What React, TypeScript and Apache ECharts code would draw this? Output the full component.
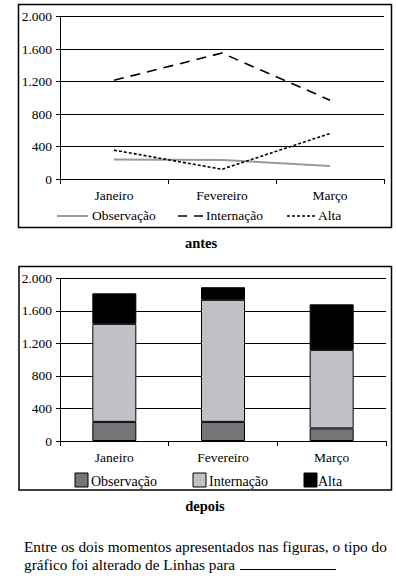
import React, { useEffect, useRef } from "react";
import * as echarts from "echarts";

const categories = ["Janeiro", "Fevereiro", "Março"];
const seriesNames = ["Observação", "Internação", "Alta"];
// "antes" (line chart)
const lineObservacao = [240, 235, 160];
const lineInternacao = [1215, 1550, 970];
const lineAlta = [355, 120, 560];
// "depois" (stacked bars)
const barObservacao = [235, 235, 155];
const barInternacao = [1205, 1500, 965];
const barAlta = [375, 155, 560];
const yTicks = { min: 0, max: 2000, interval: 400 };

const FONT = "Liberation Serif";

const fmt = (v: number) =>
  v >= 1000 ? Math.floor(v / 1000) + "." + String(v % 1000).padStart(3, "0") : String(v);

export default function App() {
  const ref = useRef<HTMLDivElement>(null);
  useEffect(() => {
    if (!ref.current) return;
    const chart = echarts.init(ref.current, null, { renderer: "svg" });
    const xAxisBase = (gridIndex: number) => ({
      type: "category" as const,
      gridIndex,
      data: categories,
      boundaryGap: true,
      axisLine: { show: true, lineStyle: { color: "#000", width: 1 } },
      axisTick: { show: true, length: 5, lineStyle: { color: "#000" } },
      axisLabel: { color: "#000", fontFamily: FONT, fontSize: 13.5, margin: 9 },
      splitLine: { show: false },
    });
    const yAxisBase = (gridIndex: number) => ({
      type: "value" as const,
      gridIndex,
      min: yTicks.min,
      max: yTicks.max,
      interval: yTicks.interval,
      axisLine: { show: true, lineStyle: { color: "#000", width: 1 } },
      axisTick: { show: true, length: 4, lineStyle: { color: "#000" } },
      axisLabel: { color: "#000", fontFamily: FONT, fontSize: 13.5, margin: 8, formatter: fmt },
      splitLine: { show: true, lineStyle: { color: "#000", width: 1 } },
    });
    const txt = (x: number, y: number, text: string, extra: any = {}) => ({
      type: "text",
      x,
      y,
      style: {
        text,
        fill: "#000",
        fontFamily: FONT,
        fontSize: 13.5,
        verticalAlign: "middle",
        align: "left",
        ...extra,
      },
    });
    const box = (x: number, y: number, w: number, h: number) => ({
      type: "rect",
      shape: { x, y, width: w, height: h },
      style: { fill: "none", stroke: "#000", lineWidth: 1.5 },
    });
    const sq = (x: number, y: number, fill: string) => ({
      type: "rect",
      shape: { x, y, width: 13, height: 14 },
      style: { fill, stroke: "#000", lineWidth: 1 },
    });
    const ln = (x1: number, x2: number, y: number, style: any) => ({
      type: "line",
      shape: { x1, y1: y, x2, y2: y },
      style,
    });
    chart.setOption({
      animation: false,
      backgroundColor: "#fff",
      textStyle: { fontFamily: FONT },
      grid: [
        { left: 60, right: 12, top: 16.5, height: 162.5 },
        { left: 60, right: 10, top: 278.3, height: 162.7 },
      ],
      xAxis: [xAxisBase(0), xAxisBase(1)],
      yAxis: [yAxisBase(0), yAxisBase(1)],
      series: [
        {
          name: seriesNames[0],
          type: "line",
          xAxisIndex: 0,
          yAxisIndex: 0,
          data: lineObservacao,
          showSymbol: false,
          lineStyle: { color: "#999", width: 2 },
        },
        {
          name: seriesNames[1],
          type: "line",
          xAxisIndex: 0,
          yAxisIndex: 0,
          data: lineInternacao,
          showSymbol: false,
          lineStyle: { color: "#000", width: 1.6, type: [10, 7] },
        },
        {
          name: seriesNames[2],
          type: "line",
          xAxisIndex: 0,
          yAxisIndex: 0,
          data: lineAlta,
          showSymbol: false,
          lineStyle: { color: "#000", width: 1.6, type: [3, 2] },
        },
        {
          name: seriesNames[0],
          type: "bar",
          stack: "s",
          xAxisIndex: 1,
          yAxisIndex: 1,
          data: barObservacao,
          barWidth: 44,
          itemStyle: { color: "#767479", borderColor: "#000", borderWidth: 1 },
        },
        {
          name: seriesNames[1],
          type: "bar",
          stack: "s",
          xAxisIndex: 1,
          yAxisIndex: 1,
          data: barInternacao,
          barWidth: 44,
          itemStyle: { color: "#c2c0c6", borderColor: "#000", borderWidth: 1 },
        },
        {
          name: seriesNames[2],
          type: "bar",
          stack: "s",
          xAxisIndex: 1,
          yAxisIndex: 1,
          data: barAlta,
          barWidth: 44,
          itemStyle: { color: "#000", borderColor: "#000", borderWidth: 1 },
        },
      ],
      graphic: [
        box(18.5, 4.5, 373, 223),
        box(19, 266.5, 372.5, 223.5),
        // top legend
        ln(57, 88, 216, { stroke: "#999", lineWidth: 2 }),
        txt(92, 215, seriesNames[0]),
        ln(178, 203, 216, { stroke: "#000", lineWidth: 1.6, lineDash: [9, 7] }),
        txt(206, 215, seriesNames[1]),
        ln(287, 317, 216, { stroke: "#000", lineWidth: 1.6, lineDash: [3, 2] }),
        txt(318, 215, seriesNames[2]),
        // bottom legend
        sq(75, 473, "#767479"),
        txt(91, 481, seriesNames[0], { fontSize: 14 }),
        sq(193, 473, "#c2c0c6"),
        txt(209, 481, seriesNames[1], { fontSize: 14 }),
        sq(304, 473, "#000"),
        txt(318, 481, seriesNames[2], { fontSize: 14 }),
        // titles
        txt(201, 243, "antes", { align: "center", fontSize: 14.5, fontWeight: "bold" }),
        txt(205, 506, "depois", { align: "center", fontSize: 14.5, fontWeight: "bold" }),
        txt(24, 546, "Entre os dois momentos apresentados nas figuras, o tipo do", { fontSize: 15.3 }),
        txt(24, 564, "gráfico foi alterado de Linhas para", { fontSize: 15.3 }),
        ln(240, 336, 569.5, { stroke: "#000", lineWidth: 1 }),
      ],
    });
    return () => chart.dispose();
  }, []);
  return (
    <div
      ref={ref}
      style={{ position: "fixed", left: 0, top: 0, width: 396, height: 580, background: "#fff" }}
    />
  );
}
